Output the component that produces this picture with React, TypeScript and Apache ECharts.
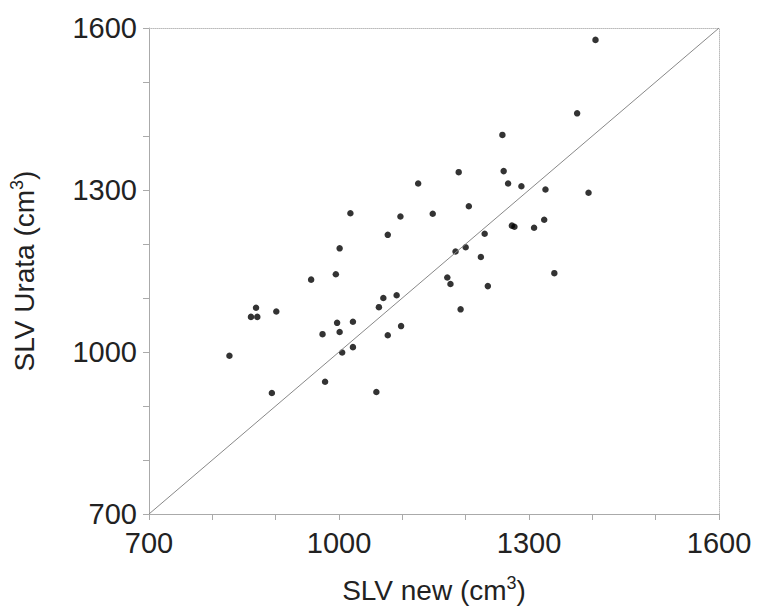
import React, { useEffect, useRef } from "react";
import * as echarts from "echarts";

const slvNew: number[] = [
  1405, 1376, 1258, 1189, 1260, 1125, 1267, 1288, 1326, 1394,
  1018, 1097, 1148, 1205, 1324, 1273, 1277, 1308, 1230, 1077,
  1184, 1200, 1224, 1001, 995, 956, 1171, 1176, 1340, 1235,
  1070, 1091, 1063, 869, 861, 871, 901, 1192, 997, 1022,
  1098, 974, 1001, 1077, 1005, 1022, 827, 978, 894, 1059,
];
const slvUrata: number[] = [
  1578, 1442, 1402, 1333, 1335, 1312, 1312, 1307, 1301, 1295,
  1257, 1251, 1256, 1270, 1245, 1234, 1232, 1230, 1219, 1217,
  1186, 1194, 1176, 1192, 1144, 1134, 1138, 1126, 1146, 1122,
  1100, 1105, 1083, 1082, 1065, 1065, 1075, 1079, 1054, 1056,
  1048, 1033, 1037, 1031, 999, 1009, 993, 945, 924, 926,
];
const identityLine: number[][] = [
  [700, 700],
  [1600, 1600],
];
const axisMin = 700;
const axisMax = 1600;
const tickStep = 100;
const labelStep = 300;

export default function App() {
  const ref = useRef<HTMLDivElement>(null);
  useEffect(() => {
    if (!ref.current) return;
    const chart = echarts.init(ref.current, undefined, { renderer: "svg" });
    const font = "Liberation Sans, Arial, sans-serif";
    const labelFmt = (v: number) => ((v - axisMin) % labelStep === 0 ? String(v) : "");
    const rich = {
      sup: { fontSize: 18, fontFamily: font, color: "#222", verticalAlign: "top" as const, lineHeight: 32, padding: [0, 0, 12, 0] },
    };
    const baseAxis = {
      type: "value" as const,
      min: axisMin,
      max: axisMax,
      interval: tickStep,
      splitLine: { show: false },
      axisTick: { show: true, length: 6, lineStyle: { color: "#aaa" } },
      axisLabel: { formatter: labelFmt, fontSize: 29, fontFamily: font, color: "#222" },
      nameLocation: "middle" as const,
      nameTextStyle: { fontSize: 28, fontFamily: font, color: "#222", rich },
    };
    const points = slvNew.map((x, i) => [x, slvUrata[i]]);
    chart.setOption({
      animation: false,
      backgroundColor: "#fff",
      grid: { left: 148, right: 42, top: 28, bottom: 98 },
      xAxis: [
        {
          ...baseAxis,
          name: "SLV new (cm{sup|3})",
          nameGap: 60,
          axisLine: { show: true, lineStyle: { color: "#aaa", width: 1 } },
          axisLabel: { ...baseAxis.axisLabel, margin: 14 },
        },
        {
          type: "value",
          position: "top",
          min: axisMin,
          max: axisMax,
          axisLine: { show: true, lineStyle: { color: "#bbb", type: "dotted", width: 1 } },
          axisTick: { show: false },
          axisLabel: { show: false },
          splitLine: { show: false },
        },
      ],
      yAxis: [
        {
          ...baseAxis,
          name: "SLV Urata (cm{sup|3})",
          nameGap: 109,
          nameRotate: 90,
          axisLine: { show: true, lineStyle: { color: "#aaa", width: 1 } },
          axisLabel: { ...baseAxis.axisLabel, margin: 12 },
        },
        {
          type: "value",
          position: "right",
          min: axisMin,
          max: axisMax,
          axisLine: { show: true, lineStyle: { color: "#bbb", type: "dotted", width: 1 } },
          axisTick: { show: false },
          axisLabel: { show: false },
          splitLine: { show: false },
        },
      ],
      series: [
        {
          type: "line",
          data: identityLine,
          xAxisIndex: 0,
          yAxisIndex: 0,
          symbol: "none",
          lineStyle: { color: "#888", width: 1 },
          silent: true,
        },
        {
          type: "scatter",
          data: points,
          xAxisIndex: 0,
          yAxisIndex: 0,
          symbolSize: 6.5,
          itemStyle: { color: "#000" },
        },
      ],
    });
    return () => chart.dispose();
  }, []);
  return (
    <div
      ref={ref}
      style={{ position: "absolute", left: 0, top: 0, width: 761, height: 612 }}
    />
  );
}
